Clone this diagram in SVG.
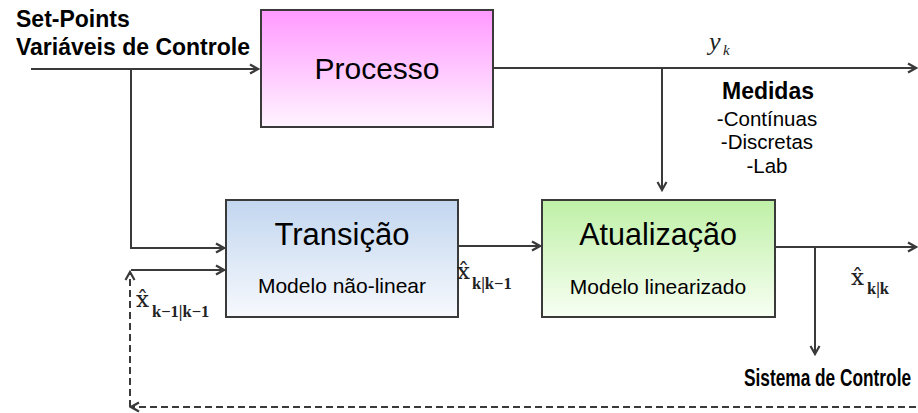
<svg xmlns="http://www.w3.org/2000/svg" width="918" height="413" viewBox="0 0 918 413">
<style>
.box{stroke:#3a3a3a;stroke-width:2}
.ln{fill:none;stroke:#3a3a3a;stroke-width:2}
.dash{fill:none;stroke:#3a3a3a;stroke-width:2;stroke-dasharray:7 4}
.t{font-family:"Liberation Sans",Arial,sans-serif;fill:#000}
.b{font-weight:bold}
.m{font-family:"DejaVu Serif","Liberation Serif",serif;fill:#222}
.s{font-family:"Liberation Serif","Times New Roman",serif;fill:#222}
</style>
<defs>
<linearGradient id="gP" x1="0" y1="0" x2="0" y2="1"><stop offset="0" stop-color="#ff99ff"/><stop offset="1" stop-color="#fff4ff"/></linearGradient>
<linearGradient id="gT" x1="0" y1="0" x2="0" y2="1"><stop offset="0" stop-color="#c2d6ef"/><stop offset="1" stop-color="#f7f9fd"/></linearGradient>
<linearGradient id="gA" x1="0" y1="0" x2="0" y2="1"><stop offset="0" stop-color="#bff0a6"/><stop offset="1" stop-color="#f7fff3"/></linearGradient>
<marker id="arr" markerUnits="userSpaceOnUse" markerWidth="12" markerHeight="12" viewBox="0 0 12 12" refX="10" refY="6" orient="auto">
<path d="M2,1.5 L10,6 L2,10.5" fill="none" stroke="#3a3a3a" stroke-width="2.2"/>
</marker>
</defs>

<g id="labels-input">
<text class="t b" x="16" y="27" font-size="23">Set-Points</text>
<text class="t b" x="16" y="55" font-size="23">Variáveis de Controle</text>
</g>

<g id="processo">
<rect class="box" x="261" y="10" width="232" height="117" fill="url(#gP)"/>
<text class="t" x="377" y="79" font-size="30" text-anchor="middle">Processo</text>
</g>

<g id="transicao">
<rect class="box" x="226" y="200" width="232" height="117" fill="url(#gT)"/>
<text class="t" x="342" y="245" font-size="31" text-anchor="middle">Transição</text>
<text class="t" x="342" y="293" font-size="21" text-anchor="middle" fill="#222">Modelo não-linear</text>
</g>

<g id="atualizacao">
<rect class="box" x="542" y="200" width="233" height="117" fill="url(#gA)"/>
<text class="t" x="658" y="245" font-size="30.5" text-anchor="middle">Atualização</text>
<text class="t" x="658" y="294" font-size="21" text-anchor="middle" fill="#222">Modelo linearizado</text>
</g>

<g id="medidas">
<text class="t b" x="768" y="99" font-size="23" text-anchor="middle">Medidas</text>
<text class="t" x="767" y="126" font-size="20.5" text-anchor="middle">-Contínuas</text>
<text class="t" x="767" y="149" font-size="20.5" text-anchor="middle">-Discretas</text>
<text class="t" x="767" y="173" font-size="20.5" text-anchor="middle">-Lab</text>
</g>

<g id="sistema-controle" transform="translate(744,386) scale(0.72,1)">
<text class="t b" x="0" y="0" font-size="24">Sistema de Controle</text>
</g>

<g id="connectors">
<path class="ln" d="M31,69 H258" marker-end="url(#arr)"/>
<path class="ln" d="M131,69 V248 H224" marker-end="url(#arr)"/>
<path class="ln" d="M131,270 H224" marker-end="url(#arr)"/>
<path class="ln" d="M493,68 H916" marker-end="url(#arr)"/>
<path class="ln" d="M662,68 V190" marker-end="url(#arr)"/>
<path class="ln" d="M458,246 H540" marker-end="url(#arr)"/>
<path class="ln" d="M775,247 H916" marker-end="url(#arr)"/>
<path class="ln" d="M815,247 V354" marker-end="url(#arr)"/>
<path class="dash" d="M916,407 H131" marker-end="url(#arr)"/>
<path class="dash" d="M130,407 V272" marker-end="url(#arr)"/>
</g>

<g id="math-labels">
<text class="s" font-style="italic" x="709" y="50" font-size="26">y</text>
<text class="s" font-style="italic" x="723" y="55" font-size="15">k</text>

<text class="m" x="136" y="307" font-size="23">x̂</text>
<text class="s" font-weight="bold" x="152" y="317" font-size="16.5">k−1|k−1</text>

<text class="m" x="457" y="279" font-size="23">x̂</text>
<text class="s" font-weight="bold" x="472" y="289" font-size="16.5">k|k−1</text>

<text class="m" x="851" y="285" font-size="23">x̂</text>
<text class="s" font-weight="bold" x="867" y="294" font-size="16.5">k|k</text>
</g>
</svg>
